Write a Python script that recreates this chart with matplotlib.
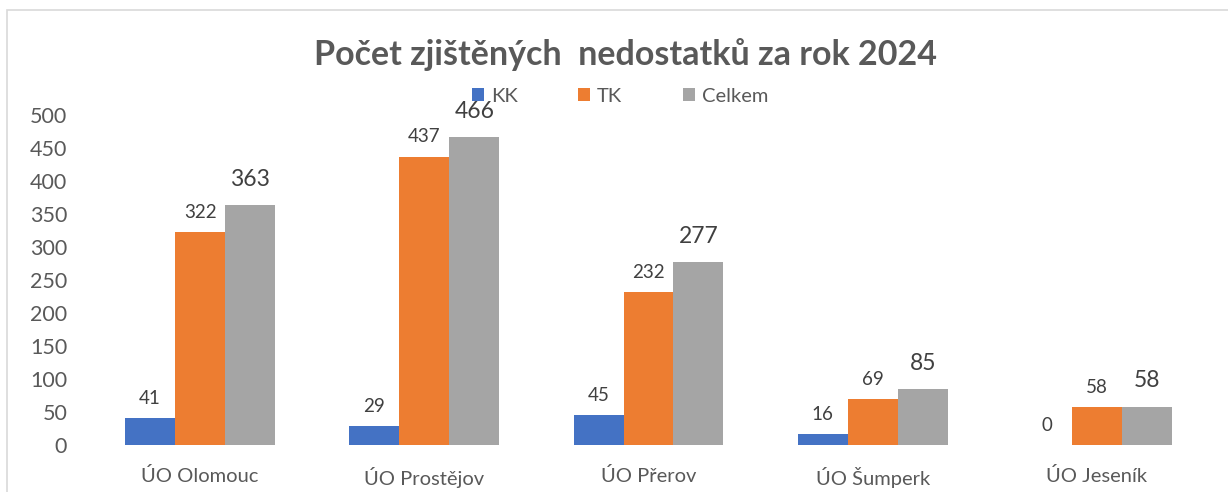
import matplotlib
matplotlib.use("Agg")
import matplotlib.pyplot as plt
import numpy as np
from matplotlib.patches import Rectangle

categories = ["ÚO Olomouc", "ÚO Prostějov", "ÚO Přerov", "ÚO Šumperk", "ÚO Jeseník"]
kk = [41, 29, 45, 16, 0]
tk = [322, 437, 232, 69, 58]
celkem = [363, 466, 277, 85, 58]
series_names = ["KK", "TK", "Celkem"]
colors = ["#4472C4", "#ED7D31", "#A5A5A5"]
yticks = [0, 50, 100, 150, 200, 250, 300, 350, 400, 450, 500]

plt.rcParams['font.family'] = ['Lato', 'DejaVu Sans']
txt = "#404040"

fig = plt.figure(figsize=(12.28, 4.92), dpi=100)
ax = fig.add_axes([88/1228, 1-445/492, (1209-88)/1228, (445-115)/492])

x = np.arange(len(categories))
w = 0.223
series = [kk, tk, celkem]
for i, (vals, c, name) in enumerate(zip(series, colors, series_names)):
    pos = x + (i-1)*w
    ax.bar(pos, vals, width=w, color=c, label=name, edgecolor='none')
    for p, v in zip(pos, vals):
        if i == 2:
            ax.annotate(str(v), (p, v), xytext=(0, 11), textcoords='offset points',
                        ha='center', va='bottom', fontsize=16.5, color=txt)
        else:
            ax.annotate(str(v), (p, v), xytext=(0, 8), textcoords='offset points',
                        ha='center', va='bottom', fontsize=13.5, color=txt)

ax.set_xlim(-0.5, len(categories)-0.5)
ax.set_ylim(0, 500)
ax.set_yticks(yticks)
ax.set_xticks(x)
ax.set_xticklabels(categories, fontsize=14.5)
ax.tick_params(axis='both', length=0, colors="#595959")
ax.tick_params(axis='y', pad=15, labelsize=15.5)
ax.tick_params(axis='x', pad=16)
for s in ax.spines.values():
    s.set_visible(False)

fig.text(625/1228, 1-55/492, "Počet zjištěných  nedostatků za rok 2024", ha='center', va='center',
         fontsize=24.5, fontweight='bold', color="#595959")
fig.legend(loc='center', bbox_to_anchor=(620/1228, 1-96/492), ncol=3, frameon=False,
           fontsize=14.5, handlelength=0.6, handleheight=0.6, columnspacing=3.0, handletextpad=0.35,
           labelcolor="#595959")

fig.patches.append(Rectangle((7/1228, -0.1), 1.2, 1-10/492+0.1, transform=fig.transFigure,
                             fill=False, edgecolor="#D9D9D9", linewidth=1.2))

fig.savefig("out.png", dpi=100)
